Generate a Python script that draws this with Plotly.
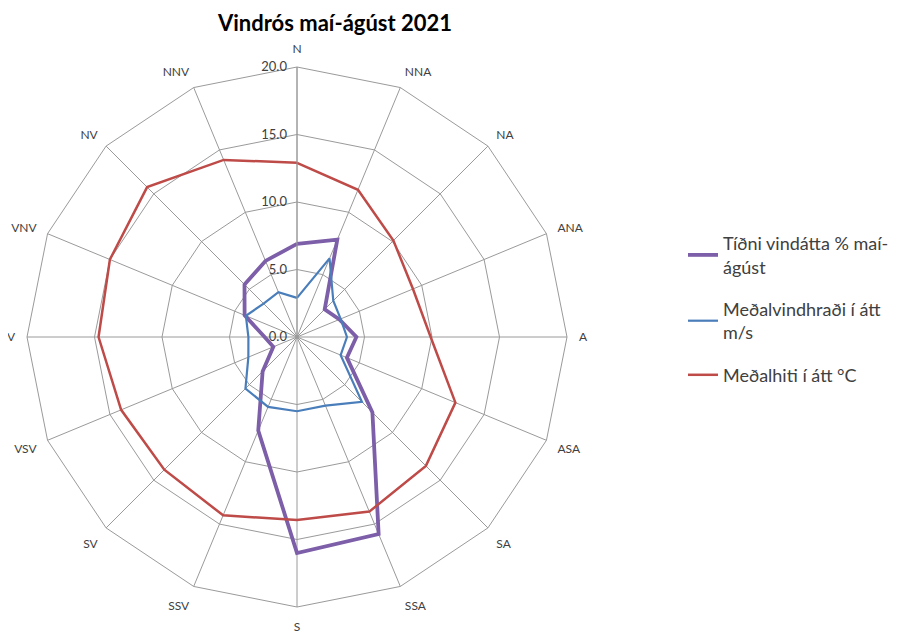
import plotly.graph_objects as go

directions = ["N", "NNA", "NA", "ANA", "A", "ASA", "SA", "SSA",
              "S", "SSV", "SV", "VSV", "V", "VNV", "NV", "NNV"]

tidni = [6.9, 7.8, 2.9, 3.4, 4.4, 4.0, 7.9, 15.8,
         16.0, 7.5, 3.6, 1.9, 2.4, 4.2, 5.5, 6.1]
vindhradi = [2.9, 6.3, 3.8, 3.5, 3.7, 3.5, 6.8, 5.5,
             5.5, 5.6, 5.4, 3.9, 3.6, 4.1, 3.5, 3.6]
hiti = [12.9, 11.8, 10.1, 9.3, 9.9, 12.7, 13.5, 14.0,
        13.55, 14.3, 13.9, 14.1, 14.7, 15.0, 15.7, 14.2]

series_names = ["Tíðni vindátta % maí-<br>ágúst",
                "Meðalvindhraði í átt<br>m/s",
                "Meðalhiti í átt °C"]
colors = ["#7d5ea8", "#4a7ebb", "#be4b48"]
widths = [3.8, 2.2, 2.5]

fig = go.Figure()
for i, (name, vals, col, w) in enumerate(zip(series_names, [tidni, vindhradi, hiti], colors, widths)):
    fig.add_trace(go.Scatterpolar(
        r=vals + vals[:1],
        theta=directions + directions[:1],
        mode="lines",
        name=name,
        legendgroup=f"g{i}",
        line=dict(color=col, width=w),
    ))

W, H = 907, 633
cx, cy, R = 289, 329, 270
fig.update_layout(
    width=W, height=H,
    margin=dict(l=0, r=0, t=0, b=0),
    paper_bgcolor="white",
    font=dict(family="Lato, Open Sans, sans-serif", color="#404040", size=11),
    title=dict(text="<b>Vindrós maí-ágúst 2021</b>", x=327 / W, xanchor="center",
               y=1 - 15 / H, yanchor="middle",
               font=dict(size=22, color="#000000", family="Lato, Open Sans, sans-serif")),
    polar=dict(
        domain=dict(x=[(cx - R) / W, (cx + R) / W], y=[1 - (cy + R) / H, 1 - (cy - R) / H]),
        bgcolor="white",
        gridshape="linear",
        angularaxis=dict(
            direction="clockwise", rotation=90,
            showline=True, linecolor="#9a9a9a", linewidth=1,
            gridcolor="#9a9a9a", gridwidth=1,
            ticks="outside", ticklen=9, tickcolor="rgba(0,0,0,0)",
            tickfont=dict(size=12, color="#404040"),
        ),
        radialaxis=dict(
            range=[0, 20], dtick=5, tickformat=".1f",
            angle=90, tickangle=90, side="counterclockwise",
            showline=True, linecolor="#9a9a9a", linewidth=1,
            gridcolor="#9a9a9a", gridwidth=1,
            ticks="outside", ticklen=5, tickcolor="rgba(0,0,0,0)",
            tickfont=dict(size=13, color="#404040"),
        ),
    ),
    legend=dict(
        x=675 / W, y=1 - 217 / H, xanchor="left", yanchor="top",
        font=dict(size=18, color="#404040"),
        itemwidth=30, tracegroupgap=16,
        bgcolor="rgba(0,0,0,0)",
    ),
)

fig.write_html("out.html")
